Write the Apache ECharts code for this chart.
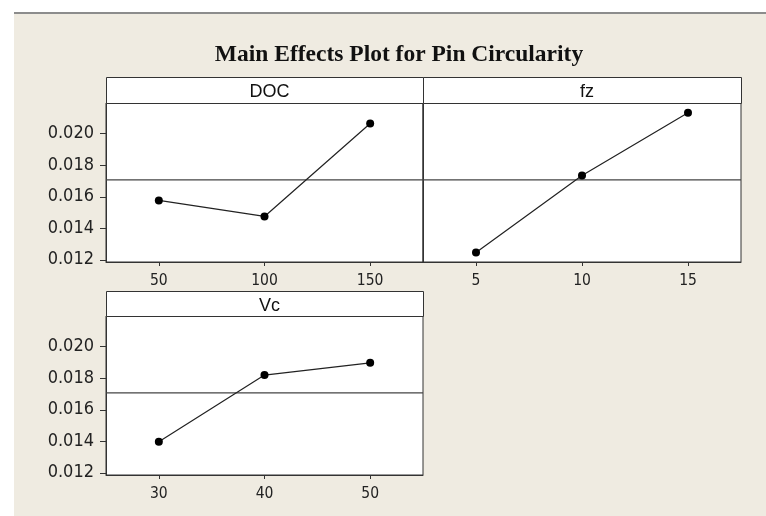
<!DOCTYPE html>
<html>
<head>
<meta charset="utf-8">
<title>Main Effects Plot for Pin Circularity</title>
<script src="https://cdn.jsdelivr.net/npm/echarts@6/dist/echarts.min.js"></script>
<style>
  html, body { margin: 0; padding: 0; background: #ffffff; }
  #wrap { position: relative; width: 766px; height: 516px; overflow: hidden; }
  #paper { position: absolute; left: 14px; top: 12px; right: 0; bottom: 0;
           background: #efebe1; border-top: 2px solid #8c8c8c; }
  #chart { position: absolute; left: 0; top: 0; width: 766px; height: 516px; }
</style>
</head>
<body>
<div id="wrap">
  <div id="paper"></div>
  <div id="chart"></div>
</div>
<script>
// Factor levels and the mean response at each level
const docLevels = [50, 100, 150];
const docMeans  = [0.01577, 0.01475, 0.02065];
const fzLevels  = [5, 10, 15];
const fzMeans   = [0.01246, 0.01735, 0.02133];
const vcLevels  = [30, 40, 50];
const vcMeans   = [0.01397, 0.01820, 0.01898];

// Overall mean of the response (reference line)
const grandMean = 0.01707;

// Shared y-axis tick values
const yTicks = [0.012, 0.014, 0.016, 0.018, 0.020];

const INK = '#333333';
const tickFont = "'DejaVu Sans Condensed', 'DejaVu Sans', sans-serif";

// Panel layout: plot rectangle and header strip for each factor
const panels = [
  { name: 'DOC', levels: docLevels, means: docMeans, xMin: 25,  xMax: 175,  left: 106, top: 103, width: 317, height: 159, headTop: 77,  headH: 26, yLabels: true },
  { name: 'fz',  levels: fzLevels,  means: fzMeans,  xMin: 2.5, xMax: 17.5, left: 423, top: 103, width: 318, height: 159, headTop: 77,  headH: 26, yLabels: false },
  { name: 'Vc',  levels: vcLevels,  means: vcMeans,  xMin: 25,  xMax: 55,   left: 106, top: 316, width: 317, height: 159, headTop: 291, headH: 25, yLabels: true }
];

const yMin = 0.01186, yMax = 0.02195;

const grids = [], xAxes = [], yAxes = [], series = [], titles = [], graphics = [];

titles.push({
  text: 'Main Effects Plot for Pin Circularity',
  left: 394, top: 38, textAlign: 'center',
  textStyle: { fontFamily: "'Liberation Serif', 'Times New Roman', serif", fontWeight: 'bold', fontSize: 23.5, color: '#111' }
});

panels.forEach((p, i) => {
  grids.push({
    left: p.left, top: p.top, width: p.width, height: p.height,
    show: true, backgroundColor: '#ffffff', borderColor: INK, borderWidth: 1, containLabel: false
  });

  // header strip with the factor name
  graphics.push({
    type: 'rect', z: 5,
    shape: { x: p.left + 0.5, y: p.headTop + 0.5, width: p.width, height: p.headH },
    style: { fill: '#ffffff', stroke: INK, lineWidth: 1 }
  });
  titles.push({
    text: p.name,
    left: p.left + p.width / 2, top: p.headTop + p.headH / 2 - 11.5, textAlign: 'center',
    textStyle: { fontFamily: "'Liberation Sans', Arial, sans-serif", fontWeight: 'normal', fontSize: 18, color: '#111' }
  });

  xAxes.push({
    gridIndex: i, type: 'value', min: p.xMin, max: p.xMax,
    axisLine: { show: true, lineStyle: { color: INK, width: 1 } },
    axisTick: { show: true, length: 4, lineStyle: { color: INK }, customValues: p.levels },
    axisLabel: { show: true, margin: 11, customValues: p.levels, fontFamily: tickFont, fontSize: 15.5, color: '#222' },
    splitLine: { show: false }
  });

  yAxes.push({
    gridIndex: i, type: 'value', min: yMin, max: yMax,
    axisLine: { show: true, lineStyle: { color: INK, width: 1 } },
    axisTick: { show: p.yLabels, length: 6, lineStyle: { color: INK }, customValues: yTicks },
    axisLabel: {
      show: p.yLabels, margin: 12, customValues: yTicks,
      fontFamily: tickFont, fontSize: 18, color: '#222',
      formatter: v => v.toFixed(3)
    },
    splitLine: { show: false }
  });

  // level means joined by a line
  series.push({
    type: 'line', xAxisIndex: i, yAxisIndex: i,
    data: p.levels.map((lv, k) => [lv, p.means[k]]),
    symbol: 'circle', symbolSize: 8,
    lineStyle: { color: '#222', width: 1.2 },
    itemStyle: { color: '#000' },
    silent: true, animation: false, z: 3
  });

  // horizontal reference line at the overall mean, spanning the panel
  series.push({
    type: 'line', xAxisIndex: i, yAxisIndex: i,
    data: [[p.xMin, grandMean], [p.xMax, grandMean]],
    symbol: 'none',
    lineStyle: { color: '#444', width: 1.2 },
    silent: true, animation: false, z: 2
  });
});

const chart = echarts.init(document.getElementById('chart'), null, { renderer: 'canvas' });
chart.setOption({
  backgroundColor: 'transparent',
  animation: false,
  title: titles,
  grid: grids,
  xAxis: xAxes,
  yAxis: yAxes,
  series: series,
  graphic: graphics
});
</script>
</body>
</html>
